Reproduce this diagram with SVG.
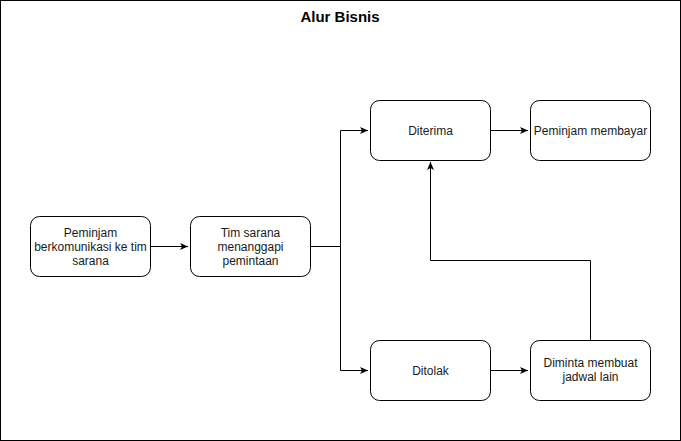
<svg xmlns="http://www.w3.org/2000/svg" width="681" height="441" viewBox="0 0 681 441">
<style>
.n{fill:#fff;stroke:#000;stroke-width:1}
.t{font-family:"Liberation Sans",Arial,sans-serif;font-size:12px;fill:#1a1a1a;text-anchor:middle}
.c{fill:none;stroke:#000;stroke-width:1}
</style>
<defs>
<marker id="a" markerWidth="10" markerHeight="8" refX="8" refY="4" orient="auto" markerUnits="userSpaceOnUse">
<path d="M0,0.5 L8,4 L0,7.5 L2,4 Z" fill="#000"/>
</marker>
</defs>
<rect x="0" y="0" width="681" height="441" fill="#fff"/>
<g id="frame">
<rect x="0.5" y="0.5" width="680" height="440" fill="#fff" stroke="#000"/>
<text x="340" y="22" style="font-family:'Liberation Sans',Arial,sans-serif;font-size:15px;font-weight:bold;text-anchor:middle" fill="#000">Alur Bisnis</text>
</g>
<g id="connectors">
<path class="c" d="M150.5,246.5 H188" marker-end="url(#a)"/>
<path class="c" d="M310.5,246.5 H340.5 V130.5 H368" marker-end="url(#a)"/>
<path class="c" d="M340.5,246.5 V370.5 H368" marker-end="url(#a)"/>
<path class="c" d="M490.5,130.5 H528" marker-end="url(#a)"/>
<path class="c" d="M490.5,370.5 H528" marker-end="url(#a)"/>
<path class="c" d="M590.5,340.5 V260.5 H430.5 V162" marker-end="url(#a)"/>
</g>
<g id="n1">
<rect class="n" x="30.5" y="216.5" width="120" height="60" rx="9"/>
<text class="t" x="90.5" y="237">Peminjam</text>
<text class="t" x="90.5" y="251">berkomunikasi ke tim</text>
<text class="t" x="90.5" y="265">sarana</text>
</g>
<g id="n2">
<rect class="n" x="190.5" y="216.5" width="120" height="60" rx="9"/>
<text class="t" x="250.5" y="237">Tim sarana</text>
<text class="t" x="250.5" y="251">menanggapi</text>
<text class="t" x="250.5" y="265">pemintaan</text>
</g>
<g id="n3">
<rect class="n" x="370.5" y="100.5" width="120" height="60" rx="9"/>
<text class="t" x="430.5" y="135">Diterima</text>
</g>
<g id="n4">
<rect class="n" x="530.5" y="100.5" width="120" height="60" rx="9"/>
<text class="t" x="590.5" y="135">Peminjam membayar</text>
</g>
<g id="n5">
<rect class="n" x="370.5" y="340.5" width="120" height="60" rx="9"/>
<text class="t" x="430.5" y="375">Ditolak</text>
</g>
<g id="n6">
<rect class="n" x="530.5" y="340.5" width="120" height="60" rx="9"/>
<text class="t" x="590.5" y="367">Diminta membuat</text>
<text class="t" x="590.5" y="381">jadwal lain</text>
</g>
</svg>
